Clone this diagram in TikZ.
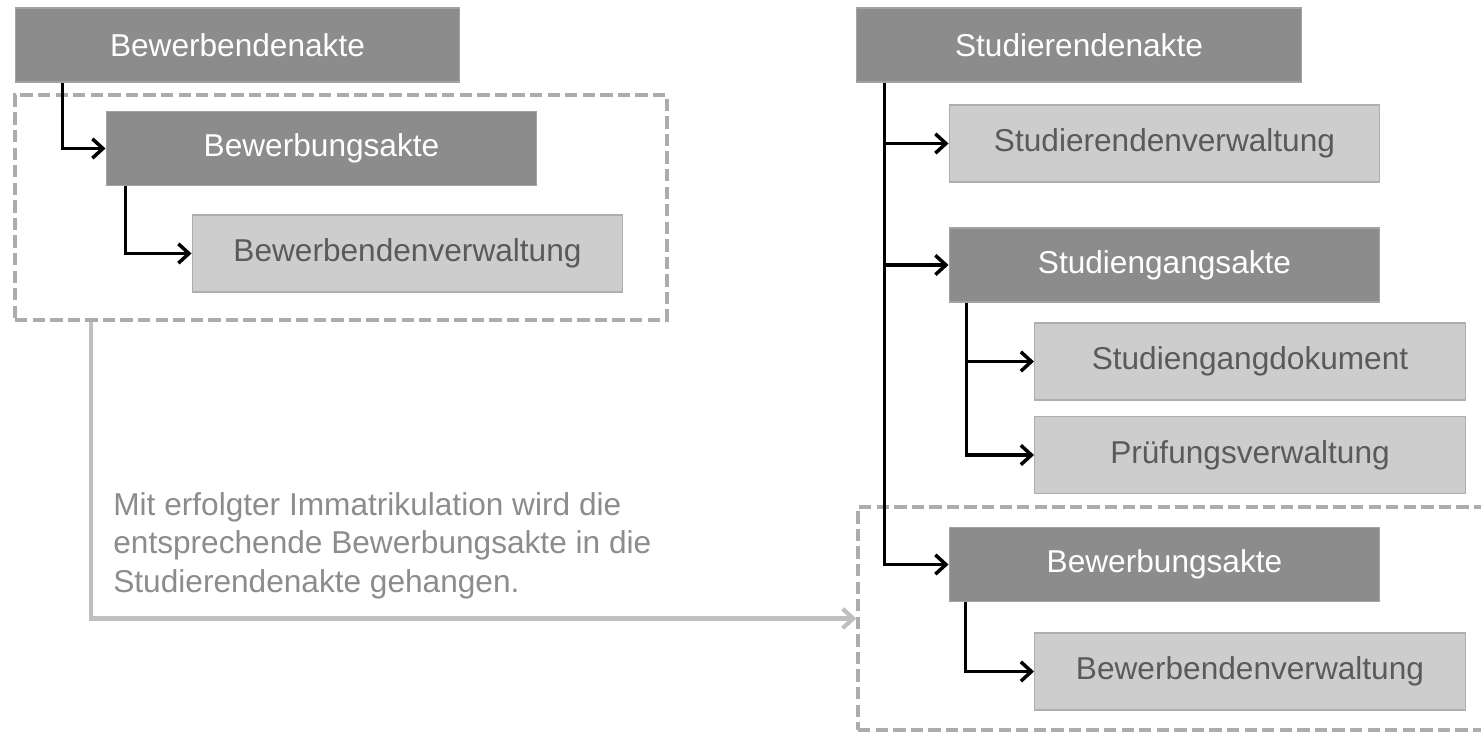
\documentclass[tikz,border=0pt]{standalone}
\usepackage{fontspec}
\setmainfont{Liberation Sans}
\usetikzlibrary{arrows.meta}

\definecolor{aktegrau}{HTML}{8C8C8C}
\definecolor{verwgrau}{HTML}{CDCDCD}
\definecolor{verwtext}{HTML}{5A5A5A}
\definecolor{rahmengrau}{HTML}{ACACAC}

\tikzset{
  akte/.style={fill=aktegrau, draw=aktegrau!80!white, line width=0.6pt, text=white,
    minimum width=8.62cm, minimum height=1.48cm, inner sep=0pt,
    font=\fontsize{18}{21.6}\selectfont},
  verwaltung/.style={akte, fill=verwgrau, draw=verwgrau!85!black, text=verwtext,
    minimum height=1.54cm},
  pfeil/.style={line width=2pt, -{Straight Barb[length=6pt, width=11pt]}},
  rahmen/.style={draw=rahmengrau, line width=2pt, dash pattern=on 7pt off 3pt, inner sep=0pt},
  uebergang/.style={draw=black!25, line width=2.4pt, -{Straight Barb[length=6pt, width=11pt]}}
}

\begin{document}
\begin{tikzpicture}[x=0.02cm, y=-0.02cm]
        % canvas
        \useasboundingbox (0,0) rectangle (1481,735);
        \clip (0,0) rectangle (1481,735);

        % dashed frames
        \node [rahmen, minimum width=13.04cm, minimum height=4.5cm] (rahmenlinks) at (341,207.5) {};
        \node [rahmen, minimum width=12.84cm, minimum height=4.46cm] (rahmenrechts) at (1179,618.5) {};

        % applicant file (left)
        \node [akte, minimum width=8.9cm] (bewerbendenakte) at (237.5,45) {Bewerbendenakte};
        \node [akte] (bewerbungsakteL) at (321.5,148.5) {Bewerbungsakte};
        \node [verwaltung] (bewerbendenverwL) at (407.5,253.5) {Bewerbendenverwaltung};

        \draw [pfeil] (bewerbendenakte.south west) ++(48,0) |- (bewerbungsakteL.west);
        \draw [pfeil] (bewerbungsakteL.south west) ++(20,0) |- (bewerbendenverwL.west);

        % student file (right)
        \node [akte, minimum width=8.92cm] (studierendenakte) at (1079,45) {Studierendenakte};
        \node [verwaltung] (studierendenverw) at (1164.5,143.5) {Studierendenverwaltung};
        \node [akte] (studiengangsakte) at (1164.5,265) {Studiengangsakte};
        \node [verwaltung] (studiengangdok) at (1250,361.5) {Studiengangdokument};
        \node [verwaltung] (pruefungsverw) at (1250,455) {Prüfungsverwaltung};
        \node [akte] (bewerbungsakteR) at (1164.5,564.5) {Bewerbungsakte};
        \node [verwaltung] (bewerbendenverwR) at (1250,671.5) {Bewerbendenverwaltung};

        % main branch
        \draw [pfeil] (studierendenakte.south west) ++(29,0) |- (studierendenverw.west);
        \draw [pfeil] (studierendenakte.south west) ++(29,0) |- (studiengangsakte.west);
        \draw [pfeil] (studierendenakte.south west) ++(29,0) |- (bewerbungsakteR.west);

        % sub branches
        \draw [pfeil] (studiengangsakte.south west) ++(18,0) |- (studiengangdok.west);
        \draw [pfeil] (studiengangsakte.south west) ++(18,0) |- (pruefungsverw.west);
        \draw [pfeil] (bewerbungsakteR.south west) ++(17,0) |- (bewerbendenverwR.west);

        % note and move of the file
        \node [anchor=north west, align=left, inner sep=0pt, text=black!45,
          font=\fontsize{18}{22}\selectfont] (hinweis) at (113,492)
          {Mit erfolgter Immatrikulation wird die\\ entsprechende Bewerbungsakte in die\\ Studierendenakte gehangen.};
        \draw [uebergang] (rahmenlinks.south west) ++(78,0) |- (rahmenrechts.west);
\end{tikzpicture}
\end{document}
